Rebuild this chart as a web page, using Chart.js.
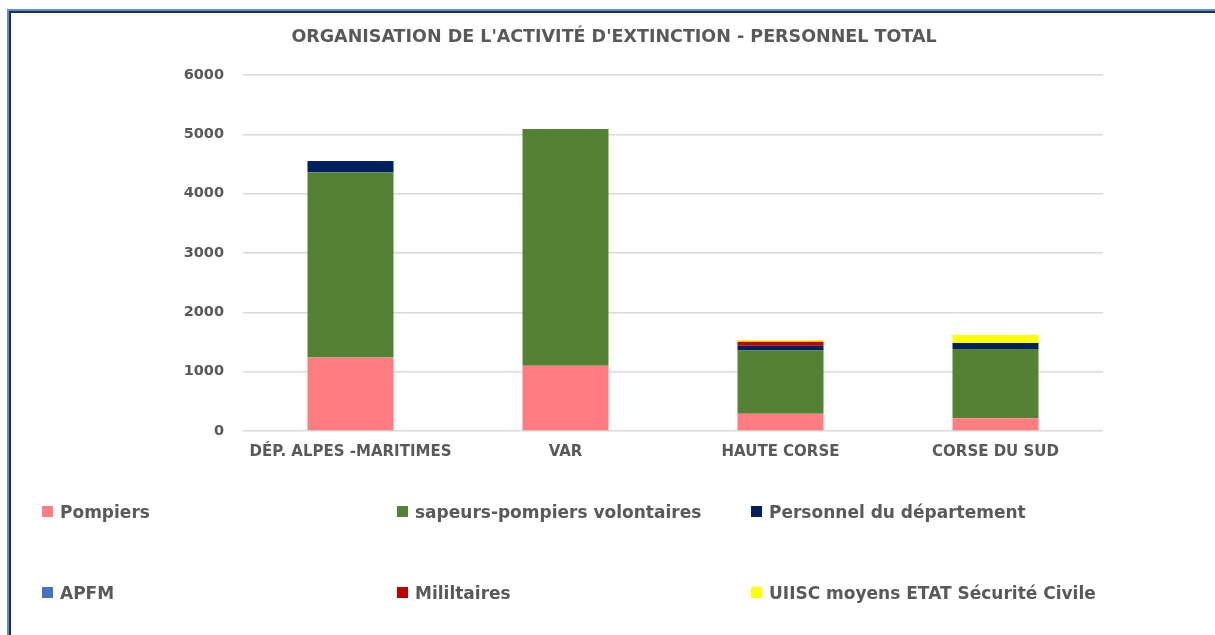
<!DOCTYPE html>
<html>
<head>
<meta charset="utf-8">
<script src="https://cdn.jsdelivr.net/npm/chart.js@4/dist/chart.umd.min.js"></script>
<style>
  html, body { margin: 0; padding: 0; background: #ffffff; }
  #wrap { position: relative; width: 1215px; height: 635px; overflow: hidden; background: #ffffff; }
  #frameOuter { position: absolute; left: 7px; top: 9px; right: -10px; bottom: -10px;
    border-top: 2px solid #5b8fd0; border-left: 2px solid #5b8fd0; }
  #frameInner { position: absolute; left: 0; top: 0; right: 0; bottom: 0;
    border-top: 2px solid #1d2f52; border-left: 2px solid #1d2f52; }
  #c { position: absolute; left: 0; top: 0; }
  .lg { position: absolute; font-family: "DejaVu Sans", sans-serif; font-weight: bold; font-size: 17px;
    color: #595959; white-space: nowrap; line-height: 20px; }
  .lg span.box { position: absolute; left: 0; top: 4px; width: 11px; height: 11px; }
  .lg span.txt { position: absolute; left: 18px; top: 0; }
</style>
</head>
<body>
<div id="wrap">
  <div id="frameOuter"><div id="frameInner"></div></div>
  <canvas id="c" width="1215" height="635"></canvas>
  <div id="legend"></div>
</div>
<script>
const categories = ["DÉP. ALPES -MARITIMES", "VAR", "HAUTE CORSE", "CORSE DU SUD"];
const pompiers = [1240, 1100, 290, 215];
const volontaires = [3120, 3990, 1065, 1165];
const personnelDept = [190, 0, 80, 105];
const apfm = [0, 0, 0, 0];
const militaires = [0, 0, 70, 0];
const uiisc = [0, 0, 30, 135];
const yTickLabels = [0, 1000, 2000, 3000, 4000, 5000, 6000];
const seriesNames = ["Pompiers", "sapeurs-pompiers volontaires", "Personnel du département",
  "APFM", "Mililtaires", "UIISC moyens ETAT Sécurité Civile"];
const seriesColors = ["#ff7c80", "#548235", "#002060", "#4472c4", "#c00000", "#ffff00"];
const chartTitle = "ORGANISATION DE L'ACTIVITÉ D'EXTINCTION - PERSONNEL TOTAL";

const seriesData = [pompiers, volontaires, personnelDept, apfm, militaires, uiisc];
const datasets = seriesNames.map((name, i) => ({
  label: name,
  data: seriesData[i],
  backgroundColor: seriesColors[i],
  borderWidth: 0,
  barPercentage: 0.4,
  categoryPercentage: 1.0
}));

const FONT = '"DejaVu Sans", sans-serif';

// Title drawn centred over the whole figure (like the reference), not just the chart box
const titlePlugin = {
  id: 'centerTitle',
  afterDraw(ch) {
    const ctx = ch.ctx;
    ctx.save();
    ctx.font = 'bold 17.5px ' + FONT;
    ctx.fillStyle = '#595959';
    ctx.textAlign = 'center';
    ctx.textBaseline = 'middle';
    ctx.fillText(chartTitle, 614, 37);
    ctx.restore();
  }
};

const chart = new Chart(document.getElementById('c'), {
  type: 'bar',
  data: { labels: categories, datasets: datasets },
  plugins: [titlePlugin],
  options: {
    responsive: false,
    animation: false,
    devicePixelRatio: 1,
    layout: { padding: { left: 0, right: 112, top: 75, bottom: 0 } },
    plugins: {
      legend: { display: false },
      tooltip: { enabled: false },
      title: { display: false }
    },
    scales: {
      x: {
        stacked: true,
        grid: { display: false, drawTicks: false },
        border: { display: false },
        ticks: { color: '#595959', font: { family: FONT, size: 15, weight: 'bold' }, padding: 12, maxRotation: 0, autoSkip: false },
        afterFit: (s) => { s.height = 204; }
      },
      y: {
        stacked: true,
        min: 0,
        max: 6000,
        border: { display: false },
        grid: {
          drawTicks: false,
          color: (ctx) => (ctx.tick && yTickLabels.includes(ctx.tick.value)) ? '#d9d9d9' : '#f0f0f0',
          lineWidth: (ctx) => (ctx.tick && yTickLabels.includes(ctx.tick.value)) ? 1.5 : 1
        },
        ticks: {
          stepSize: 200,
          color: '#595959',
          font: { family: FONT, size: 14.5, weight: 'bold' },
          padding: 19,
          callback: (v) => yTickLabels.includes(v) ? String(v) : null
        },
        afterFit: (s) => { s.width = 243; }
      }
    }
  }
});

// HTML legend built from the chart's datasets, in a 3-column grid
const legend = document.getElementById('legend');
const colX = [42, 397, 751];
const rowY = [502, 583];
chart.data.datasets.forEach((ds, i) => {
  const d = document.createElement('div');
  d.className = 'lg';
  d.style.left = colX[i % 3] + 'px';
  d.style.top = rowY[Math.floor(i / 3)] + 'px';
  const b = document.createElement('span');
  b.className = 'box';
  b.style.background = ds.backgroundColor;
  const t = document.createElement('span');
  t.className = 'txt';
  t.textContent = ds.label;
  d.appendChild(b); d.appendChild(t);
  legend.appendChild(d);
});
</script>
</body>
</html>
